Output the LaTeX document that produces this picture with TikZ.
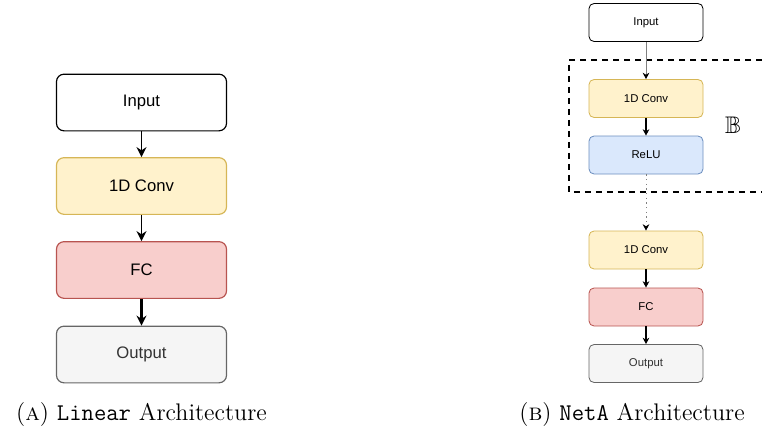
\documentclass[tikz,border=0pt]{standalone}
\usepackage{amssymb}
\usepackage{fontspec}
\usetikzlibrary{arrows.meta}
\newfontfamily\boxfont{Liberation Sans}
\definecolor{convfill}{HTML}{FFF2CC}
\definecolor{convline}{HTML}{D6B656}
\definecolor{fcfill}{HTML}{F8CECC}
\definecolor{fcline}{HTML}{B85450}
\definecolor{relufill}{HTML}{DAE8FC}
\definecolor{reluline}{HTML}{6C8EBF}
\definecolor{outfill}{HTML}{F5F5F5}
\definecolor{outline}{HTML}{666666}
\definecolor{outtext}{HTML}{333333}
\tikzset{
  bigbox/.style={draw, rounded corners=4.5pt, line width=0.7pt,
    minimum width=102pt, minimum height=34pt, font=\boxfont\fontsize{10}{12}\selectfont},
  smallbox/.style={draw, rounded corners=3pt, line width=0.5pt,
    minimum width=68.4pt, minimum height=22.8pt, font=\boxfont\fontsize{6.8}{8}\selectfont},
  conv/.style={fill=convfill, draw=convline},
  fc/.style={fill=fcfill, draw=fcline},
  relu/.style={fill=relufill, draw=reluline},
  outp/.style={fill=outfill, draw=outline, text=outtext},
  bigarrow/.style={-{Stealth[length=6pt,width=6pt,inset=2pt]}, line width=0.9pt},
  smallarrow/.style={-{Stealth[length=3.8pt,width=4pt,inset=1.2pt]}, line width=0.8pt},
  caption/.style={inner sep=0pt, anchor=base, font=\Large},
}
\begin{document}
\begin{tikzpicture}[x=0.6pt,y=-0.6pt]
    \useasboundingbox (0,0) rectangle (762,434);
    % (a) linear
    \node[bigbox] (inA) at (141.5,102.5) {Input};
    \node[bigbox,conv] (convA) at (141.5,186) {1D Conv};
    \node[bigbox,fc] (fcA) at (141.5,270) {FC};
    \node[bigbox,outp] (outA) at (141.5,354.5) {Output};
    \draw[bigarrow] (inA) -- (convA);
    \draw[bigarrow] (convA) -- (fcA);
    \draw[bigarrow, line width=1.5pt] (fcA) -- (outA);
    % (b) NetA
    \node[smallbox] (inB) at (646,22.5) {Input};
    \node[smallbox,conv] (convB) at (646,98.5) {1D Conv};
    \node[smallbox,relu] (reluB) at (646,155) {ReLU};
    \node[smallbox,conv] (convBB) at (646,250) {1D Conv};
    \node[smallbox,fc] (fcB) at (646,307) {FC};
    \node[smallbox,outp] (outB) at (646,363.5) {Output};
    \draw[dashed, line width=1.2pt, dash pattern=on 3.6pt off 3pt] (762,60) -| (569,192) -- (762,192);
    \node[font=\Large] (blk) at (733,125) {$\mathbb{B}$};
    \draw[smallarrow, gray, line width=0.6pt, -{Stealth[length=3.8pt,width=4pt,inset=1.2pt,black]}] (inB) -- (convB);
    \draw[smallarrow] (convB) -- (reluB);
    \draw[smallarrow, gray, dotted, line width=0.6pt, -{Stealth[length=3.8pt,width=4pt,inset=1.2pt,black]}] (reluB) -- (convBB);
    \draw[smallarrow] (convBB) -- (fcB);
    \draw[smallarrow] (fcB) -- (outB);
    % captions
    \node[caption] (capA) at (141.5,420) {(\textsc{a})~\texttt{Linear} Architecture};
    \node[caption, anchor=base east] (capB) at (745,420) {(\textsc{b})~\texttt{NetA} Architecture};
\end{tikzpicture}
\end{document}
